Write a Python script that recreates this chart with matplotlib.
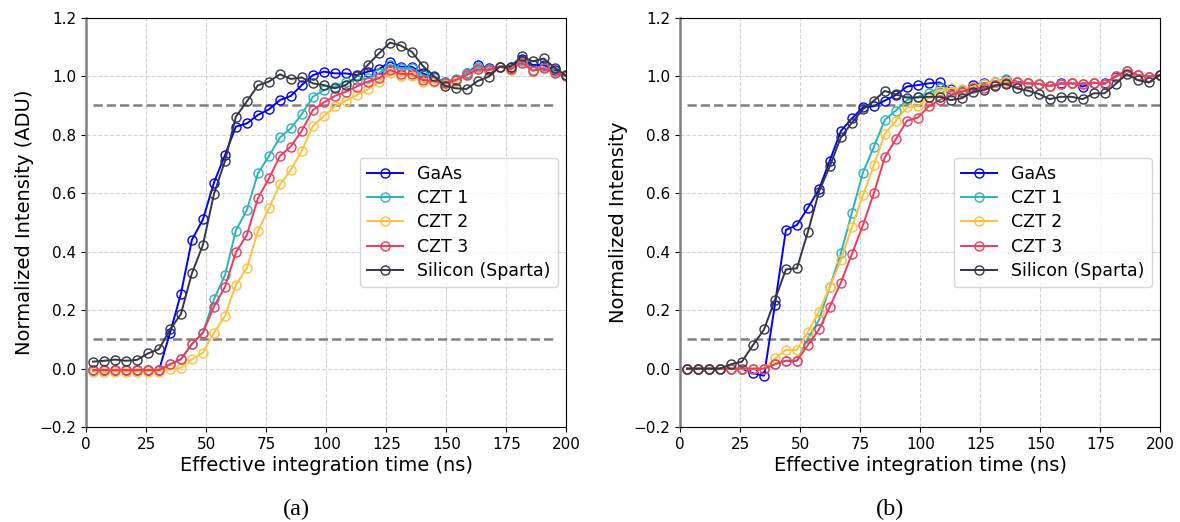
import matplotlib
matplotlib.use("Agg")
import matplotlib.pyplot as plt

# ---- data ----
time_ns = [2.8, 7.4, 12.0, 16.5, 21.1, 25.7, 30.3, 34.9, 39.4, 44.0, 48.6, 53.2, 57.8, 62.3,
           66.9, 71.5, 76.1, 80.7, 85.2, 89.8, 94.4, 99.0, 103.6, 108.1, 112.7, 117.3, 121.9,
           126.5, 131.0, 135.6, 140.2, 144.8, 149.4, 153.9, 158.5, 163.1, 167.7, 172.3, 176.8,
           181.4, 186.0, 190.6, 195.2, 199.7]

series_names = ["GaAs", "CZT 1", "CZT 2", "CZT 3", "Silicon (Sparta)"]
series_colors = ["#0000ff", "#2bb3bd", "#ffc03a", "#f2385c", "#333842"]

# panel (a): Normalized Intensity (ADU)
gaas_a = [-0.005, -0.005, -0.005, -0.005, -0.005, -0.005, -0.005, 0.123, 0.255, 0.440, 0.510,
          0.636, 0.730, 0.827, 0.838, 0.867, 0.886, 0.918, 0.932, 0.969, 1.003, 1.015, 1.009,
          1.009, 1.003, 1.015, 1.023, 1.049, 1.032, 1.032, 1.009, 0.995, 0.981, 0.986, 1.009,
          1.038, 1.026, 1.032, 1.032, 1.057, 1.038, 1.038, 1.020, 1.003]
czt1_a = [-0.005, -0.005, -0.005, -0.005, -0.005, -0.005, -0.005, 0.015, 0.032, 0.084, 0.123,
          0.237, 0.320, 0.472, 0.542, 0.667, 0.727, 0.790, 0.821, 0.870, 0.929, 0.952, 0.964,
          0.981, 0.986, 0.992, 1.009, 1.038, 1.026, 1.026, 1.003, 0.992, 0.981, 0.989, 1.009,
          1.032, 1.023, 1.032, 1.023, 1.052, 1.020, 1.030, 1.015, 1.003]
czt2_a = [-0.010, -0.012, -0.010, -0.010, -0.010, -0.010, -0.010, -0.002, 0.003, 0.032, 0.055,
          0.123, 0.180, 0.286, 0.343, 0.470, 0.548, 0.630, 0.679, 0.745, 0.829, 0.863, 0.897,
          0.915, 0.935, 0.954, 0.981, 1.011, 1.001, 1.001, 0.978, 0.978, 0.973, 0.981, 1.003,
          1.023, 1.018, 1.032, 1.020, 1.046, 1.018, 1.026, 1.009, 1.000]
czt3_a = [-0.005, -0.005, -0.005, -0.005, -0.005, -0.005, -0.005, 0.015, 0.032, 0.084, 0.123,
          0.212, 0.280, 0.397, 0.457, 0.582, 0.650, 0.727, 0.759, 0.813, 0.884, 0.910, 0.932,
          0.946, 0.964, 0.981, 0.992, 1.020, 1.007, 1.007, 0.986, 0.983, 0.975, 0.986, 1.003,
          1.023, 1.020, 1.032, 1.023, 1.046, 1.018, 1.026, 1.009, 1.000]
si_a = [0.024, 0.027, 0.031, 0.027, 0.030, 0.052, 0.067, 0.134, 0.186, 0.326, 0.423, 0.597,
        0.710, 0.861, 0.913, 0.968, 0.981, 1.006, 0.990, 0.995, 0.975, 0.969, 0.958, 0.969,
        1.000, 1.038, 1.077, 1.114, 1.104, 1.083, 1.035, 1.000, 0.967, 0.958, 0.956, 0.983,
        0.998, 1.032, 1.032, 1.068, 1.050, 1.060, 1.028, 1.003]

# panel (b): Normalized Intensity
gaas_b = [0.0, 0.0, 0.0, 0.0, 0.0, 0.0, -0.016, -0.024, 0.218, 0.474, 0.491, 0.550, 0.613,
          0.711, 0.812, 0.855, 0.893, 0.897, 0.916, 0.935, 0.964, 0.969, 0.975, 0.978, 0.955,
          0.946, 0.969, 0.975, 0.981, 0.986, 0.981, 0.975, 0.973, 0.966, 0.975, 0.975, 0.964,
          0.977, 0.975, 0.998, 1.018, 1.003, 0.998, 1.003]
czt1_b = [0.0, 0.0, 0.0, 0.0, 0.0, 0.0, 0.0, 0.0, 0.015, 0.027, 0.027, 0.104, 0.166, 0.280,
          0.394, 0.533, 0.670, 0.759, 0.850, 0.882, 0.918, 0.929, 0.943, 0.958, 0.946, 0.952,
          0.964, 0.973, 0.981, 0.989, 0.978, 0.975, 0.973, 0.966, 0.973, 0.975, 0.973, 0.977,
          0.973, 1.000, 1.018, 1.003, 0.998, 1.003]
czt2_b = [0.0, 0.0, 0.0, 0.0, 0.0, 0.0, 0.0, 0.0, 0.035, 0.064, 0.064, 0.126, 0.195, 0.280,
          0.371, 0.485, 0.593, 0.696, 0.802, 0.847, 0.893, 0.897, 0.925, 0.950, 0.958, 0.954,
          0.964, 0.973, 0.981, 0.984, 0.978, 0.975, 0.973, 0.966, 0.973, 0.975, 0.973, 0.977,
          0.973, 1.000, 1.018, 1.003, 0.998, 1.003]
czt3_b = [0.0, 0.0, 0.0, 0.0, 0.0, 0.0, 0.0, 0.0, 0.015, 0.027, 0.027, 0.081, 0.134, 0.212,
          0.294, 0.392, 0.491, 0.601, 0.722, 0.784, 0.847, 0.858, 0.897, 0.918, 0.935, 0.946,
          0.958, 0.958, 0.969, 0.975, 0.978, 0.975, 0.973, 0.966, 0.973, 0.975, 0.973, 0.977,
          0.973, 1.000, 1.018, 1.003, 0.998, 1.003]
si_b = [0.0, 0.0, 0.0, 0.0, 0.015, 0.024, 0.081, 0.134, 0.235, 0.339, 0.343, 0.468, 0.605,
        0.692, 0.790, 0.841, 0.886, 0.916, 0.949, 0.937, 0.926, 0.927, 0.929, 0.929, 0.918,
        0.924, 0.946, 0.952, 0.966, 0.973, 0.958, 0.950, 0.939, 0.921, 0.929, 0.929, 0.921,
        0.941, 0.941, 0.973, 1.007, 0.986, 0.978, 1.003]

thresholds = [0.1, 0.9]
x_ticks = [0, 25, 50, 75, 100, 125, 150, 175, 200]
y_ticks = [-0.2, 0.0, 0.2, 0.4, 0.6, 0.8, 1.0, 1.2]
panel_labels = ["(a)", "(b)"]
y_labels = ["Normalized Intensity (ADU)", "Normalized Intensity"]
x_label = "Effective integration time (ns)"
threshold_end = [195.3, 200.0]

panels = [
    [gaas_a, czt1_a, czt2_a, czt3_a, si_a],
    [gaas_b, czt1_b, czt2_b, czt3_b, si_b],
]

# ---- figure ----
fig = plt.figure(figsize=(11.8, 5.22), dpi=100)
ax_lefts = [86.3 / 1180, 680.3 / 1180]
ax_bottom = 1 - 427.2 / 522
ax_w = 480 / 1180
ax_h = 409.7 / 522
label_x = [296 / 1180, 890 / 1180]
label_y = 1 - 509 / 522

for i, data in enumerate(panels):
    ax = fig.add_axes([ax_lefts[i], ax_bottom, ax_w, ax_h])
    ax.grid(True, linestyle="--", color="#d4d4d4", linewidth=0.8)
    ax.set_axisbelow(True)
    for name, color, ys in zip(series_names, series_colors, data):
        ax.plot(time_ns, ys, color=color, linewidth=1.4, marker="o", markersize=6.5,
                markerfacecolor="none", markeredgewidth=1.0, label=name)
    for t in thresholds:
        ax.hlines(t, time_ns[0], threshold_end[i], colors="#808080", linestyles="--",
                  linewidth=1.8, zorder=1.5)
    ax.set_xlim(0, 200)
    ax.set_ylim(-0.2, 1.2)
    ax.set_xticks(x_ticks)
    ax.set_yticks(y_ticks)
    ax.tick_params(labelsize=11)
    ax.set_xlabel(x_label, fontsize=14, labelpad=3)
    ax.set_ylabel(y_labels[i], fontsize=14)
    ax.spines["left"].set_color("#808080")
    ax.spines["left"].set_linewidth(1.8)
    ax.legend(loc="center right", fontsize=12.5, framealpha=0.8, fancybox=True,
              labelspacing=0.36, handlelength=2.1)
    fig.text(label_x[i], label_y, panel_labels[i],
             ha="center", va="center", fontsize=17.5, family="Liberation Serif")

fig.savefig("out.png", dpi=100)
